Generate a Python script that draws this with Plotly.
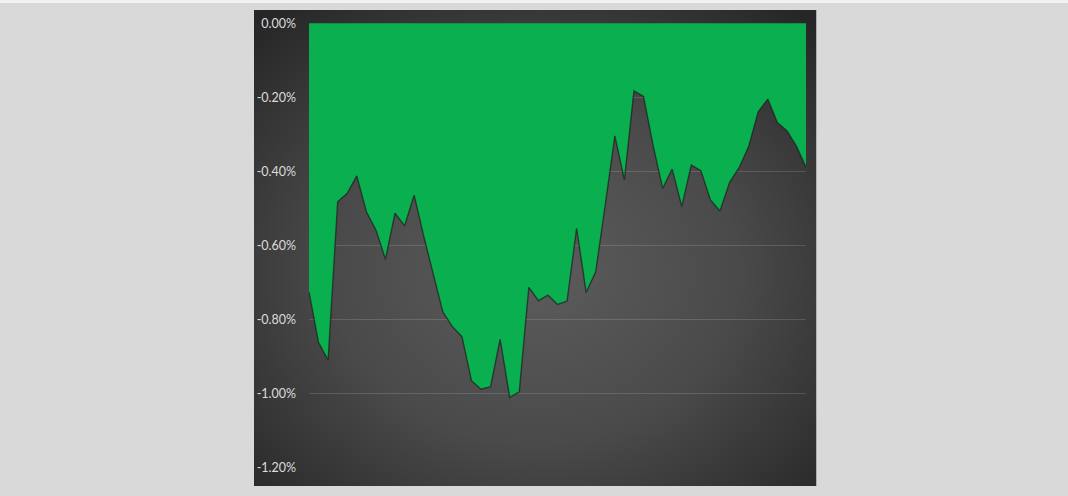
import base64
import plotly.graph_objects as go

# Data (percent)
periods = list(range(53))
drawdown_pct = [
    -0.725, -0.862, -0.909, -0.482, -0.459, -0.412, -0.509, -0.558, -0.637, -0.513,
    -0.547, -0.464, -0.575, -0.680, -0.779, -0.819, -0.846, -0.965, -0.988, -0.981,
    -0.853, -1.010, -0.995, -0.713, -0.749, -0.734, -0.759, -0.750, -0.554, -0.727,
    -0.671, -0.490, -0.304, -0.423, -0.183, -0.198, -0.330, -0.446, -0.394, -0.495,
    -0.383, -0.398, -0.477, -0.507, -0.430, -0.390, -0.333, -0.239, -0.205, -0.268,
    -0.290, -0.332, -0.389,
]
tick_values = [0.0, -0.2, -0.4, -0.6, -0.8, -1.0, -1.2]
tick_labels = ["0.00%", "-0.20%", "-0.40%", "-0.60%", "-0.80%", "-1.00%", "-1.20%"]

W, H = 1068, 496
L, R, T, B = 309, 262, 23, 28
pw, ph = W - L - R, H - T - B


def px_x(px):
    return (px - L) / pw


def px_y(py):
    return (H - B - py) / ph


svg = (
    '<svg xmlns="http://www.w3.org/2000/svg" width="562" height="476" '
    'viewBox="0 0 562 476" preserveAspectRatio="none"><defs>'
    '<radialGradient id="g" cx="50%" cy="55%" r="72%">'
    '<stop offset="0" stop-color="#5c5c5c"/>'
    '<stop offset="0.5" stop-color="#4a4a4a"/>'
    '<stop offset="1" stop-color="#262626"/>'
    '</radialGradient></defs>'
    '<rect width="562" height="476" fill="url(#g)"/></svg>'
)
svg_uri = "data:image/svg+xml;base64," + base64.b64encode(svg.encode()).decode()

fig = go.Figure()
fig.add_trace(
    go.Scatter(
        x=periods,
        y=drawdown_pct,
        mode="lines",
        fill="tozeroy",
        fillcolor="#0AAF4F",
        line=dict(color="rgba(30,30,30,0.7)", width=1.4),
        hoverinfo="skip",
        showlegend=False,
    )
)

box_x0, box_x1 = px_x(254), px_x(816.5)
box_top, box_bot = px_y(10), px_y(486)

fig.update_layout(
    width=W,
    height=H,
    margin=dict(l=L, r=R, t=T, b=B, pad=0),
    paper_bgcolor="#d9d9d9",
    plot_bgcolor="rgba(0,0,0,0)",
    showlegend=False,
    images=[
        dict(
            source=svg_uri,
            xref="paper",
            yref="paper",
            x=box_x0,
            y=box_top,
            sizex=box_x1 - box_x0,
            sizey=box_top - box_bot,
            xanchor="left",
            yanchor="top",
            sizing="stretch",
            layer="below",
        )
    ],
    shapes=[
        dict(
            type="rect",
            xref="paper",
            yref="paper",
            x0=px_x(0),
            x1=px_x(W),
            y0=px_y(3),
            y1=px_y(0),
            fillcolor="#f2f2f2",
            line=dict(width=0),
            layer="below",
        )
    ],
    xaxis=dict(
        range=[0, len(periods) - 1],
        visible=False,
        showgrid=False,
        zeroline=False,
    ),
    yaxis=dict(
        range=[-1.2005, 0.0005],
        tickvals=tick_values,
        ticktext=tick_labels,
        showgrid=True,
        gridcolor="rgba(255,255,255,0.14)",
        gridwidth=1,
        zeroline=False,
        showline=False,
        ticks="",
        ticklabelstandoff=12,
        tickfont=dict(family="Lato, 'Open Sans', sans-serif", size=12.5, color="#dcdcdc"),
    ),
)

fig.write_html(
    "out.html",
    config={"displayModeBar": False, "staticPlot": True},
    post_script="document.body.style.margin='0';document.body.style.background='#d9d9d9';",
)
